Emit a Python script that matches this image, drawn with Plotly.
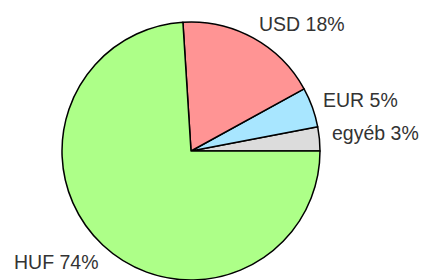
import plotly.graph_objects as go

labels = ["egyéb", "EUR", "USD", "HUF"]
values = [3, 5, 18, 74]
colors = ["#DCDCDC", "#A8E6FF", "#FF9494", "#ADFF88"]

W, H = 422, 280

def px_x(x):
    return x / W

def px_y(y):
    return 1 - y / H

# pie centre x 191, top edge at y 22 (bottom slightly cropped in reference)
cx, top, r = 191, 22, 130
fig = go.Figure(go.Pie(
    labels=labels,
    values=values,
    sort=False,
    direction="counterclockwise",
    rotation=90 - 360 * values[0] / sum(values),
    textinfo="none",
    hoverinfo="label+percent",
    marker=dict(colors=colors, line=dict(color="#000000", width=1.5)),
    domain=dict(x=[px_x(cx - r), px_x(cx + r)], y=[0, px_y(top)]),
    showlegend=False,
))

label_pos = {"USD": (257, 24), "EUR": (321, 100), "egyéb": (330, 133), "HUF": (12, 262)}
annotations = []
for lab, val in zip(labels, values):
    sx, sy = label_pos[lab]
    annotations.append(dict(
        text=f"{lab} {val}%", x=px_x(sx), y=px_y(sy), xref="paper", yref="paper",
        xanchor="left", yanchor="middle", showarrow=False,
        font=dict(family="Liberation Sans, Arial, sans-serif", size=19.5, color="#333333"),
    ))

fig.update_layout(
    width=W, height=H,
    margin=dict(l=0, r=0, t=0, b=0),
    paper_bgcolor="white", plot_bgcolor="white",
    annotations=annotations,
)

fig.write_html("out.html", config={"displayModeBar": False},
               post_script="document.body.style.margin='0px';")
